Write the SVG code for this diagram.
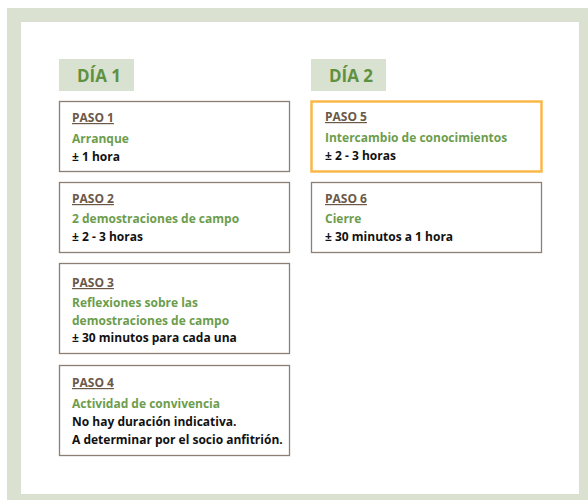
<svg xmlns="http://www.w3.org/2000/svg" width="588" height="500" viewBox="0 0 588 500">
<style>
.frame{fill:#dae1d1}
.day{fill:#d9e1d0}
.dayt{font-family:"Open Sans","Noto Sans",sans-serif;font-weight:700;font-size:17px;fill:#5f9142}
.box{fill:#fff;stroke:#8c7f73;stroke-width:1.3}
.hl{fill:#fff;stroke:#fbb849;stroke-width:2.5}
text{font-family:"Open Sans","Noto Sans",sans-serif;font-weight:700;font-size:12px}
.p{fill:#6b5847;text-decoration:underline}
.g{fill:#6c9d4d}
.k{fill:#111}
</style>
<rect class="frame" x="7" y="8" width="581" height="492"/>
<rect x="21" y="22" width="558" height="472" fill="#fff"/>
<g id="day1">
<rect class="day" x="59" y="59" width="75" height="32"/>
<text class="dayt" x="77" y="82" style="font-size:17px">DÍA 1</text>
</g>
<g id="day2">
<rect class="day" x="311" y="59" width="75" height="32"/>
<text class="dayt" x="329" y="82" style="font-size:17px">DÍA 2</text>
</g>
<g id="paso1">
<rect class="box" x="59.5" y="101.5" width="230" height="70"/>
<text class="p" x="72" y="122">PASO 1</text>
<text class="g" x="72" y="143">Arranque</text>
<text class="k" x="72" y="161">± 1 hora</text>
</g>
<g id="paso2">
<rect class="box" x="59.5" y="182.5" width="230" height="70"/>
<text class="p" x="72" y="203">PASO 2</text>
<text class="g" x="72" y="223">2 demostraciones de campo</text>
<text class="k" x="72" y="241">± 2 - 3 horas</text>
</g>
<g id="paso3">
<rect class="box" x="59.5" y="263.5" width="230" height="90"/>
<text class="p" x="72" y="287">PASO 3</text>
<text class="g" x="72" y="307">Reflexiones sobre las</text>
<text class="g" x="72" y="325">demostraciones de campo</text>
<text class="k" x="72" y="342">± 30 minutos para cada una</text>
</g>
<g id="paso4">
<rect class="box" x="59.5" y="365.5" width="230" height="90"/>
<text class="p" x="72" y="387">PASO 4</text>
<text class="g" x="72" y="408">Actividad de convivencia</text>
<text class="k" x="72" y="426">No hay duración indicativa.</text>
<text class="k" x="72" y="444">A determinar por el socio anfitrión.</text>
</g>
<g id="paso5">
<rect class="hl" x="311.5" y="101.5" width="230" height="70"/>
<text class="p" x="325" y="121">PASO 5</text>
<text class="g" x="325" y="142">Intercambio de conocimientos</text>
<text class="k" x="325" y="160">± 2 - 3 horas</text>
</g>
<g id="paso6">
<rect class="box" x="311.5" y="182.5" width="230" height="70"/>
<text class="p" x="325" y="203">PASO 6</text>
<text class="g" x="325" y="223">Cierre</text>
<text class="k" x="325" y="241">± 30 minutos a 1 hora</text>
</g>
<g id="connectors"/>
</svg>
